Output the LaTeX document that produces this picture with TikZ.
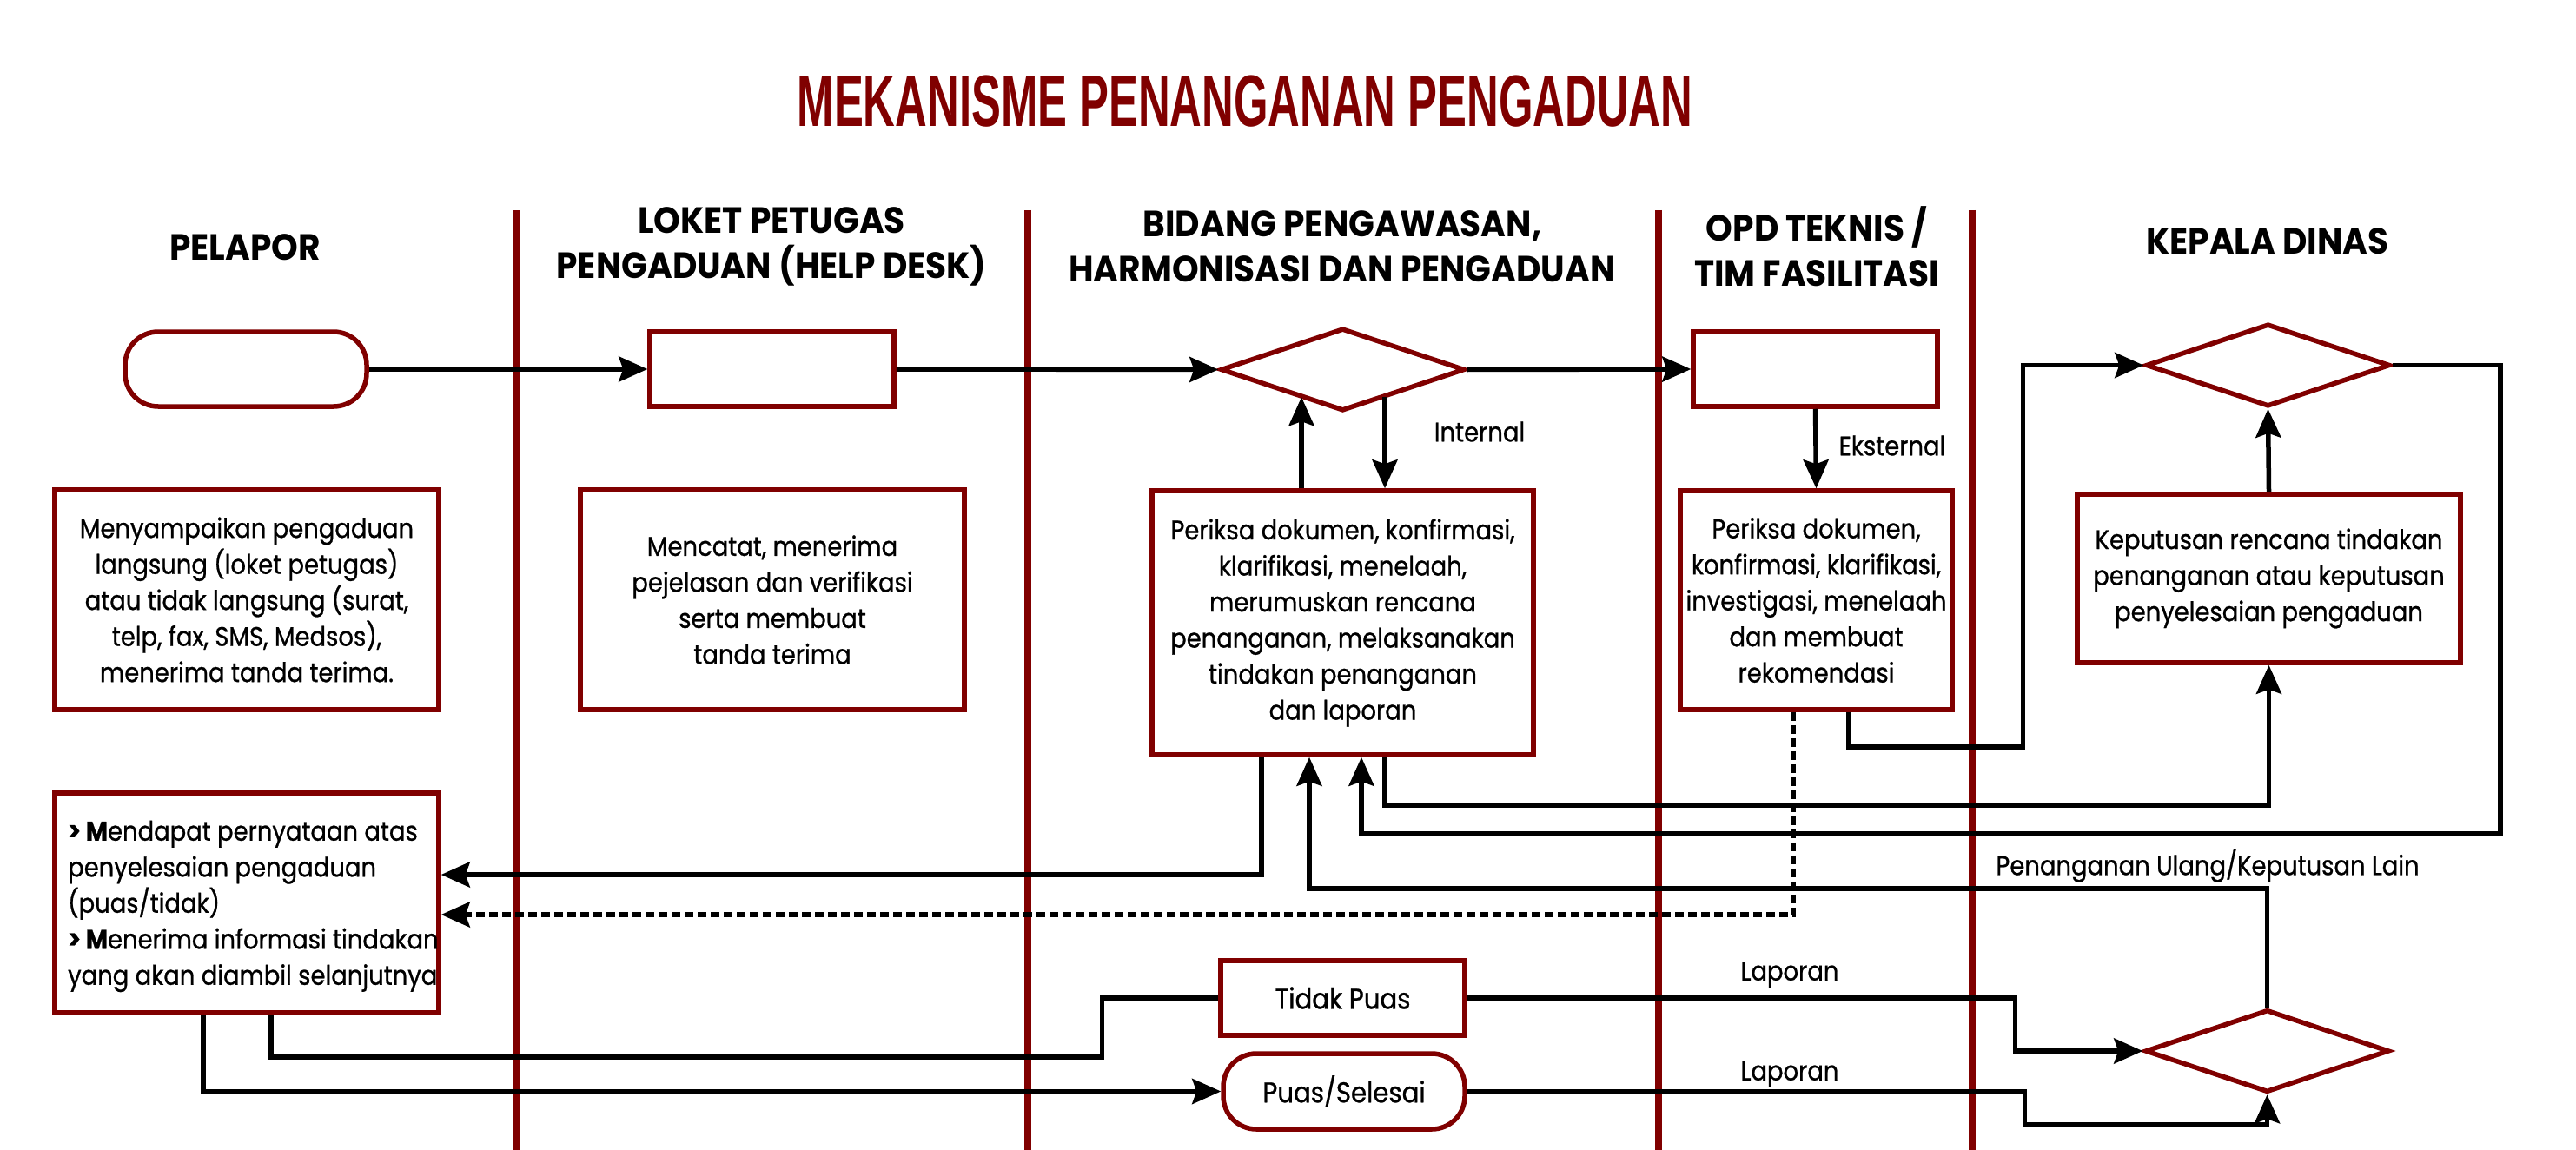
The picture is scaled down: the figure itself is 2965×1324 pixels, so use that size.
\documentclass[tikz,border=0pt]{standalone}
\usepackage{fontspec}
\usetikzlibrary{calc,arrows.meta,shapes.geometric}
\newfontfamily\bodyfont[FakeStretch=0.885,FakeBold=0.8]{Poppins}
\newfontfamily\hdrfont[FakeStretch=0.93]{Poppins}
\newfontfamily\titlefont[FakeStretch=0.605]{Liberation Sans}
\definecolor{lanered}{HTML}{800000}
\newcommand\bfnt{\bodyfont\fontsize{31}{41.5}\selectfont}
\newcommand\bignt{\bodyfont\fontsize{33}{41.5}\selectfont}
\newcommand\hdrfnt{\hdrfont\bfseries\fontsize{42}{52}\selectfont}
\newcommand\ttlfnt{\titlefont\bfseries\fontsize{84}{90}\selectfont}
\begin{document}
\begin{tikzpicture}[x=1pt,y=-1pt,
  lane/.style={draw=lanered, line width=8pt},
  box/.style={draw=lanered, line width=5.5pt, fill=white, inner sep=0pt, align=center, font=\bfnt, text=black},
  term/.style={box, rounded corners=38pt},
  dia/.style={diamond, draw=lanered, line width=5.5pt, fill=white, inner sep=0pt, minimum width=281pt, minimum height=95pt},
  conn/.style={line width=5.5pt, -{Stealth[length=33pt,width=29pt,inset=5pt]}},
  dconn/.style={conn, dash pattern=on 10pt off 5pt},
  wire/.style={line width=5.5pt},
  lbl/.style={font=\bfnt, inner sep=0pt},
  hdr/.style={font=\hdrfnt, align=center, inner sep=0pt},
]
\useasboundingbox (0,0) rectangle (2965,1324);
\fill[white] (0,0) rectangle (2965,1324);

% title
\node[font=\ttlfnt, text=lanered, inner sep=0pt] (title) at (1433,117) {MEKANISME PENANGANAN PENGADUAN};

% lane separators
\foreach \lx in {595,1183,1909,2270} \draw[lane] (\lx,242) -- (\lx,1324);

% headers
\node[hdr] (h1) at (282,285) {PELAPOR};
\node[hdr] (h2) at (888,284) {LOKET PETUGAS\\PENGADUAN (HELP DESK)};
\node[hdr] (h3) at (1545,284) {BIDANG PENGAWASAN,\\HARMONISASI DAN PENGADUAN};
\node[hdr] (h4) at (2091,284) {OPD TEKNIS /\\TIM FASILITASI};
\node[hdr] (h5) at (2610,278) {KEPALA DINAS};

% top row
\node[term, minimum width=278pt, minimum height=86pt] (t1) at (283,425) {};
\node[box, minimum width=281pt, minimum height=86pt] (b1) at (888.5,425) {};
\node[dia] (d1) at (1545.5,425.5) {};
\node[box, minimum width=281pt, minimum height=86pt] (o1) at (2089.5,425) {};
\node[dia] (d2) at (2610.5,420.5) {};

% text boxes
\node[box, minimum width=442pt, minimum height=253pt] (p1) at (284,690.5)
  {Menyampaikan pengaduan\\langsung (loket petugas)\\atau tidak langsung (surat,\\telp, fax, SMS, Medsos),\\menerima tanda terima.};
\node[box, minimum width=442pt, minimum height=253pt] (b2) at (889,690.5)
  {Mencatat, menerima\\pejelasan dan verifikasi\\serta membuat\\tanda terima};
\node[box, minimum width=439pt, minimum height=304pt] (m1) at (1545.5,717)
  {Periksa dokumen, konfirmasi,\\klarifikasi, menelaah,\\merumuskan rencana\\penanganan, melaksanakan\\tindakan penanganan\\dan laporan};
\node[box, minimum width=313pt, minimum height=252pt] (o2) at (2090.5,691)
  {Periksa dokumen,\\konfirmasi, klarifikasi,\\investigasi, menelaah\\dan membuat\\rekomendasi};
\node[box, minimum width=441pt, minimum height=194pt] (k1) at (2611.5,666)
  {Keputusan rencana tindakan\\penanganan atau keputusan\\penyelesaian pengaduan};

% bottom
\node[box, minimum width=442pt, minimum height=253pt] (p2) at (284,1039.5) {};
\node[lbl, anchor=west, align=left] (p2t) at (78,1043.5)
  {\textbf{> M}endapat pernyataan atas\\penyelesaian pengaduan\\(puas/tidak)\\\textbf{> M}enerima informasi tindakan\\yang akan diambil selanjutnya};
\node[box, font=\bignt, minimum width=281pt, minimum height=86pt] (tp) at (1545.5,1149) {Tidak Puas};
\node[term, font=\bignt, minimum width=278pt, minimum height=87pt] (ps) at (1547,1256.5) {Puas/Selesai};
\node[dia] (d3) at (2609.5,1210) {};

% connectors top row
\draw[conn] (t1.east) -- (b1.west);
\draw[conn] (b1.east) -- (d1.west);
\draw[conn] (d1.east) -- (o1.west);
\draw[conn] ($(m1.north)+(-47.5,0)$) -- ($(d1.center)+(-47.5,31.7)$);
\draw[conn] ($(d1.center)+(48.5,31.1)$) -- ($(m1.north)+(48.5,0)$);
\node[lbl] (lint) at (1703,497) {Internal};
\draw[conn] (o1.south) -- (o2.north);
\node[lbl] (lext) at (2178,513) {Eksternal};
\draw[conn] ($(o2.south)+(37,0)$) -- ++(0,40) -| ($(d2.west)+(-139,0)$) -- (d2.west);
\draw[conn] (k1.north) -- (d2.south);
\draw[conn] (d2.east) -- ++(124,0) |- ($(m1.south)+(21.5,88)$) -- ($(m1.south)+(21.5,0)$);
\draw[conn] ($(m1.south)+(48.5,0)$) -- ++(0,55) -| (k1.south);
\draw[conn] ($(m1.south)+(-93.5,0)$) |- ($(p2.east)+(0,-32.5)$);
\draw[dconn] ($(o2.south)+(-26,0)$) |- ($(p2.east)+(0,13.5)$);
\draw[conn] (d3.north) |- ($(m1.south)+(-38.5,151)$) -- ($(m1.south)+(-38.5,0)$);
\node[lbl] (lpu) at (2541,997) {Penanganan Ulang/Keputusan Lain};

% bottom connectors
\draw[wire] ($(p2.south)+(28,0)$) |- ($(tp.west)+(-134,68)$) |- (tp.west);
\draw[conn] ($(p2.south)+(-50,0)$) |- (ps.west);
\draw[conn] (tp.east) -| ($(d3.west)+(-147,0)$) -- (d3.west);
\node[lbl] (llap1) at (2060,1122) {Laporan};
\draw[conn] (ps.east) -| ($(d3.south)+(-279,34)$) -| (d3.south);
\node[lbl] (llap2) at (2060,1237) {Laporan};
\end{tikzpicture}
\end{document}
